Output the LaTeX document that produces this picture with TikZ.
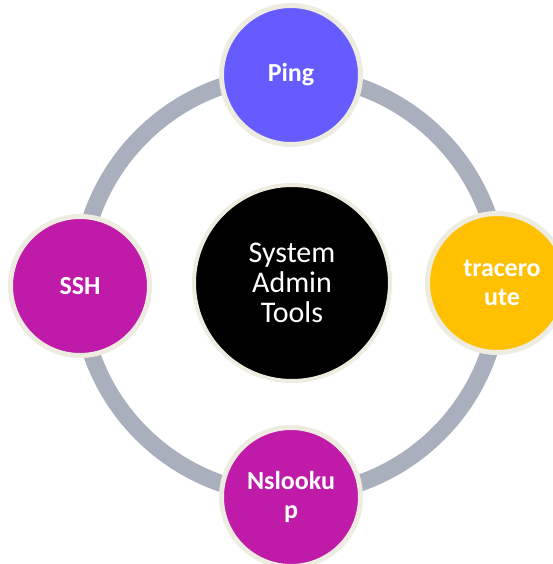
\documentclass[tikz,border=0pt]{standalone}
\usepackage{fontspec}
\setmainfont{Carlito}
\usetikzlibrary{positioning}

\definecolor{ringgray}{RGB}{169,175,188}
\definecolor{rimcream}{RGB}{238,236,225}
\definecolor{pingblue}{RGB}{101,91,255}
\definecolor{toolpink}{RGB}{192,26,168}
\definecolor{toolgold}{RGB}{255,192,0}

\begin{document}
\begin{tikzpicture}[x=1pt,y=-1pt,
    tool/.style={circle,draw=rimcream,line width=5pt,minimum size=139pt,inner sep=0pt,
        text=white,font=\fontsize{26}{29}\selectfont\bfseries,align=center},
    hub/.style={circle,draw=rimcream,line width=4pt,minimum size=196pt,inner sep=0pt,
        fill=black,text=white,font=\fontsize{30}{30}\selectfont,align=center}]
    \useasboundingbox (0,0) rectangle (553,564);

    % ring behind the tools
    \coordinate (mid) at (290,285);
    \draw[ringgray,line width=17pt] (mid) circle[radius=210];

    \node[hub] (admin) at (292,283) {System\\Admin\\Tools};

    \node[tool,fill=pingblue] (ping) at (291,75) {Ping};
    \node[tool,fill=toolpink] (ssh) at (80,286) {SSH};
    \node[tool,fill=toolgold] (trace) at (497,283) {\hspace*{10pt}tracero\\\hspace*{10pt}ute};
    \node[tool,fill=toolpink] (nslookup) at (291,497) {Nslooku\\p};
\end{tikzpicture}
\end{document}
